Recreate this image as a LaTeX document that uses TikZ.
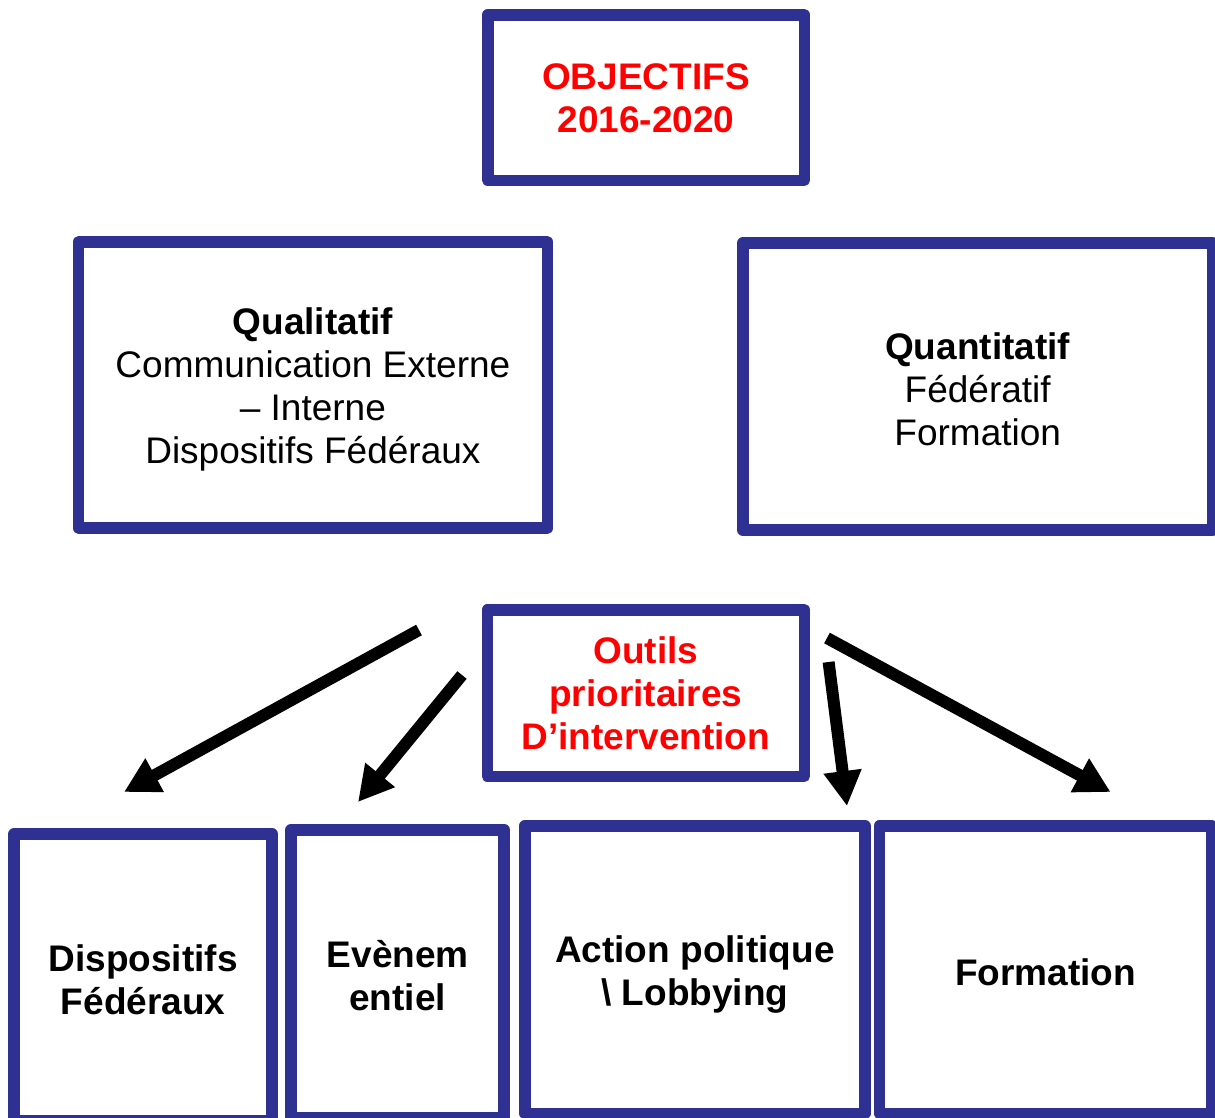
\documentclass[tikz,border=0pt]{standalone}
\usepackage{fontspec}
\setmainfont{Liberation Sans}
\usetikzlibrary{arrows.meta}
\definecolor{frameblue}{RGB}{46,49,146}
\definecolor{titlered}{RGB}{255,0,0}

\begin{document}
\begin{tikzpicture}[x=1pt,y=-1pt,
  box/.style={draw=frameblue, line width=11.5pt, line join=round, fill=white,
    inner sep=0pt, outer sep=0pt},
  boxtext/.style={align=center, inner sep=0pt, text=black,
    font=\fontsize{37}{43}\selectfont},
  redtext/.style={boxtext, text=titlered, font=\fontsize{37}{43}\selectfont\bfseries},
  boldtext/.style={boxtext, font=\fontsize{37}{43}\selectfont\bfseries},
  bigarrow/.style={draw=black, line width=12pt, -{Triangle[length=35pt,width=36pt]}}
]
\useasboundingbox (0,0) rectangle (1215,1117);
\fill[white] (0,0) rectangle (1215,1117);
\clip (0,0) rectangle (1215,1117);

% objectives
\node[box, minimum width=316.5pt, minimum height=165.5pt,
  label={[redtext, name=objtext, yshift=-1pt]center:{OBJECTIFS\\2016-2020}}]
  (obj) at (646,97.5) {};

% qualitative / quantitative goals
\node[box, minimum width=468.7pt, minimum height=286.4pt,
  label={[boxtext, name=qualtext, yshift=-4pt]center:{\textbf{Qualitatif}\\Communication Externe\\– Interne\\Dispositifs Fédéraux}}]
  (qual) at (312.9,385) {};
\node[box, minimum width=469.5pt, minimum height=287pt,
  label={[boxtext, name=quanttext, yshift=-3pt]center:{\textbf{Quantitatif}\\Fédératif\\Formation}}]
  (quant) at (977.7,386.5) {};

% priority tools
\node[box, minimum width=317pt, minimum height=166.5pt,
  label={[redtext, name=toolstext]center:{Outils\\prioritaires\\D’intervention}}]
  (tools) at (645.8,693) {};

% the four tools
\node[box, minimum width=258pt, minimum height=287pt,
  label={[boldtext, name=t1text, yshift=-2pt]center:{Dispositifs\\Fédéraux}}]
  (t1) at (143.2,977.4) {};
\node[box, minimum width=213pt, minimum height=287.7pt,
  label={[boldtext, name=t2text, yshift=-2pt]center:{Evènem\\entiel}}]
  (t2) at (397.7,973.6) {};
\node[box, minimum width=340pt, minimum height=287.7pt,
  label={[boldtext, name=t3text, yshift=-5pt]center:{Action politique\\\textbackslash{} Lobbying}}]
  (t3) at (694.8,969.6) {};
\node[box, minimum width=332.2pt, minimum height=287.7pt,
  label={[boldtext, name=t4text, yshift=-3pt]center:{Formation}}]
  (t4) at (1045.6,969.6) {};

% arrows fanning out from the tools box
\coordinate (a1s) at (419,630);   \coordinate (a1e) at (124,792);
\coordinate (a2s) at (462,675);   \coordinate (a2e) at (358,802);
\coordinate (a3s) at (828.6,662); \coordinate (a3e) at (847,806);
\coordinate (a4s) at (827,638);   \coordinate (a4e) at (1110.6,792);
\draw[bigarrow] (a1s) -- (a1e);
\draw[bigarrow] (a2s) -- (a2e);
\draw[bigarrow] (a3s) -- (a3e);
\draw[bigarrow] (a4s) -- (a4e);
\end{tikzpicture}
\end{document}
